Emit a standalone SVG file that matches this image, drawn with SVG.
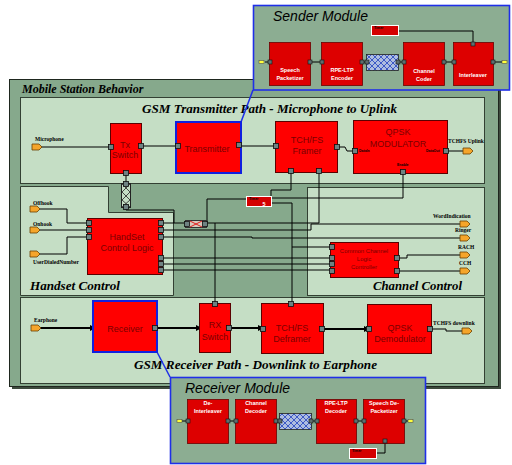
<svg xmlns="http://www.w3.org/2000/svg" xmlns:xlink="http://www.w3.org/1999/xlink" width="512" height="465" viewBox="0 0 512 465">
  <defs>
    <style>
      .frame { fill: #86a98c; stroke: #1e261e; stroke-width: 1; }
      .panel { fill: #c5dec5; stroke: #334033; stroke-width: 1; }
      .module { fill: #8cad92; stroke: #1f2fe8; stroke-width: 1.6; }
      .blk { fill: #ff0000; stroke: #5a0000; stroke-width: 1; }
      .blk-sel { fill: #ff0000; stroke: #1020e0; stroke-width: 2; }
      .sub { fill: #dd0000; stroke: #6a0000; stroke-width: 0.8; }
      .timer { fill: #d40000; stroke: #ffffff; stroke-width: 1; }
      .pt { fill: #6e8282; stroke: #101010; stroke-width: 0.8; }
      .op { fill: #f5a52a; stroke: #6a4000; stroke-width: 0.8; }
      .yp { fill: #ffff3c; stroke: #505050; stroke-width: 0.6; }
      .t-frame { font-family: "Liberation Serif", "Times New Roman", serif; font-style: italic; font-weight: bold; font-size: 12px; fill: #000; }
      .t-panel { font-family: "Liberation Serif", "Times New Roman", serif; font-style: italic; font-weight: bold; font-size: 13px; fill: #000; }
      .t-mod { font-family: "Liberation Sans", Arial, sans-serif; font-style: italic; font-size: 14px; fill: #000; }
      .t-blk { font-family: "Liberation Sans", Arial, sans-serif; font-size: 9px; fill: #7a0000; text-anchor: middle; }
      .t-ccl { font-family: "Liberation Sans", Arial, sans-serif; font-size: 6px; fill: #7a0000; text-anchor: middle; }
      .t-sub { font-family: "Liberation Sans", Arial, sans-serif; font-weight: bold; font-size: 5.5px; fill: #ffffff; text-anchor: middle; }
      .t-io { font-family: "Liberation Serif", "Times New Roman", serif; font-weight: bold; font-size: 5.5px; fill: #000; }
      .t-tiny { font-family: "Liberation Sans", Arial, sans-serif; font-weight: bold; font-size: 3.5px; fill: #000; }
      .wire { fill: none; stroke: #000; stroke-width: 1; }
      .bus { fill: none; stroke: #000; stroke-width: 2; marker-end: url(#arr); }
      .link { fill: none; stroke: #1f2fe8; stroke-width: 1.5; }
    </style>
    <pattern id="hatch" width="6" height="6" patternUnits="userSpaceOnUse">
      <rect width="6" height="6" fill="#aebde0"/>
      <path d="M0,0 L6,6 M6,0 L0,6" stroke="#1f3fc0" stroke-width="0.8"/>
    </pattern>
    <marker id="arr" viewBox="0 0 6 6" refX="5" refY="3" markerWidth="3" markerHeight="3" orient="auto">
      <path d="M0,0 L6,3 L0,6 Z" fill="#000"/>
    </marker>
    <rect id="port" x="-2.5" y="-2.5" width="5" height="5" class="pt"/>
    <path id="oport" d="M0,-3 H7 L10,0 L7,3 H0 Z" class="op"/>
    <rect id="yport" x="0" y="-1.5" width="5" height="3" class="yp"/>
  </defs>

  <!-- outer frame with drop shadow -->
  <rect x="12" y="82" width="489" height="307" fill="#3d4a3d"/>
  <rect x="9.5" y="79.5" width="489" height="307" class="frame"/>
  <text x="22" y="93" class="t-frame">Mobile Station Behavior</text>

  <!-- sub-panels -->
  <rect x="20.5" y="97.5" width="464" height="86" class="panel"/>
  <path d="M20.5,186.5 H108.5 V212.5 H173.5 V295.5 H20.5 Z" class="panel"/>
  <rect x="307.5" y="187.5" width="177" height="108" class="panel"/>
  <rect x="20.5" y="297.5" width="464" height="86" class="panel"/>

  <text x="142" y="113" class="t-panel" textLength="255" lengthAdjust="spacingAndGlyphs">GSM Transmitter Path - Microphone to Uplink</text>
  <text x="30" y="290" class="t-panel" textLength="90" lengthAdjust="spacingAndGlyphs">Handset Control</text>
  <text x="373" y="290" class="t-panel" textLength="89" lengthAdjust="spacingAndGlyphs">Channel Control</text>
  <text x="134" y="369" class="t-panel" textLength="243" lengthAdjust="spacingAndGlyphs">GSM Receiver Path - Downlink to Earphone</text>

  <!-- wiring -->
  <g id="connectors">
    <path class="wire" d="M41,147 H110"/>
    <path class="wire" d="M141,146 H176"/>
    <path class="wire" d="M241,146 H275"/>
    <path class="wire" d="M338,147 H345 L347,151 H353"/>
    <path class="wire" d="M448,151 H463"/>
    <path class="wire" d="M403,173 V198 H272"/>
    <path class="wire" d="M291,172 V190 H271 V196"/>
    <path class="wire" d="M272,203 H292 V303"/>
    <path class="wire" d="M292,247 H330"/>
    <path class="wire" d="M126,173 V183"/>
    <path class="wire" d="M126,207 V210 H174 V223"/>
    <path class="wire" d="M162,223 H185"/>
    <path class="wire" d="M207,223 V199 H246"/>
    <path class="wire" d="M207,223 H319 V172"/>
    <path class="wire" d="M215,223 V303"/>
    <path class="wire" d="M162,230 H311 V224 H460"/>
    <path class="wire" d="M162,237 H252 V238 H460"/>
    <path class="wire" d="M162,258 H330"/>
    <path class="wire" d="M162,264 H330"/>
    <path class="wire" d="M162,270 H330"/>
    <path class="wire" d="M398,258 H407 V255 H460"/>
    <path class="wire" d="M398,271 H460"/>
    <path class="wire" d="M38,209 H67 V223 H87"/>
    <path class="wire" d="M38,230 H87"/>
    <path class="wire" d="M38,254 H67 V237 H87"/>
    <path class="wire" d="M431,329 H446 V331 H462"/>
    <path class="bus" d="M39,328 H95"/>
    <path class="bus" d="M157,328 H201"/>
    <path class="bus" d="M230,328 H263"/>
    <path class="bus" d="M323,329 H369"/>
    <path class="link" d="M253,90 L241,122"/>
    <path class="link" d="M157,352 L170,377"/>
  </g>

  <!-- external ports -->
  <g id="microphone">
    <use xlink:href="#oport" x="32" y="147"/>
    <text x="35" y="141" class="t-io">Microphone</text>
  </g>
  <g id="offhook">
    <use xlink:href="#oport" x="30" y="209"/>
    <text x="33" y="205" class="t-io">Offhook</text>
  </g>
  <g id="onhook">
    <use xlink:href="#oport" x="30" y="230"/>
    <text x="33" y="226" class="t-io">Onhook</text>
  </g>
  <g id="user-dialed-number">
    <use xlink:href="#oport" x="30" y="254"/>
    <text x="33" y="264" class="t-io">UserDialedNumber</text>
  </g>
  <g id="tchfs-uplink">
    <use xlink:href="#oport" x="463" y="151"/>
    <text x="448" y="143" class="t-io">TCHFS Uplink</text>
  </g>
  <g id="word-indication">
    <use xlink:href="#oport" x="460" y="224"/>
    <text x="433" y="218" class="t-io">WordIndication</text>
  </g>
  <g id="ringer">
    <use xlink:href="#oport" x="460" y="238"/>
    <text x="455" y="232" class="t-io">Ringer</text>
  </g>
  <g id="rach">
    <use xlink:href="#oport" x="460" y="255"/>
    <text x="458" y="249" class="t-io">RACH</text>
  </g>
  <g id="cch">
    <use xlink:href="#oport" x="460" y="271"/>
    <text x="459" y="265" class="t-io">CCH</text>
  </g>
  <g id="earphone">
    <use xlink:href="#oport" x="31" y="328"/>
    <text x="34" y="322" class="t-io">Earphone</text>
  </g>
  <g id="tchfs-downlink">
    <use xlink:href="#oport" x="462" y="331"/>
    <text x="433" y="325" class="t-io">TCHFS downlink</text>
  </g>

  <!-- transmitter path -->
  <g id="tx-switch">
    <rect x="110.5" y="123.5" width="31" height="50" class="blk"/>
    <text x="125" y="148" class="t-blk">Tx</text>
    <text x="125" y="158" class="t-blk">Switch</text>
    <use xlink:href="#port" x="111" y="147"/>
    <use xlink:href="#port" x="141" y="146"/>
    <use xlink:href="#port" x="126" y="173"/>
  </g>
  <g id="transmitter">
    <rect x="176" y="122" width="65" height="51" class="blk-sel"/>
    <text x="207" y="152" class="t-blk">Transmitter</text>
    <use xlink:href="#port" x="178" y="146"/>
    <use xlink:href="#port" x="239" y="145"/>
  </g>
  <g id="tchfs-framer">
    <rect x="275.5" y="121.5" width="62" height="51" class="blk"/>
    <text x="307" y="143" class="t-blk">TCH/FS</text>
    <text x="307" y="154" class="t-blk">Framer</text>
    <use xlink:href="#port" x="276" y="146"/>
    <use xlink:href="#port" x="337" y="147"/>
    <use xlink:href="#port" x="291" y="171"/>
    <use xlink:href="#port" x="319" y="171"/>
  </g>
  <g id="qpsk-modulator">
    <rect x="353.5" y="120.5" width="94" height="53" class="blk"/>
    <text x="398" y="135" class="t-blk">QPSK</text>
    <text x="398" y="147" class="t-blk">MODULATOR</text>
    <use xlink:href="#port" x="355" y="151"/>
    <use xlink:href="#port" x="446" y="151"/>
    <use xlink:href="#port" x="403" y="172"/>
    <text x="359" y="152" class="t-tiny">DataIn</text>
    <text x="426" y="152" class="t-tiny">DataOut</text>
    <text x="397" y="166" class="t-tiny">Enable</text>
  </g>

  <!-- handset / control glue -->
  <g id="tx-delay">
    <rect x="121.5" y="183.5" width="9" height="24" fill="#c5dec5" stroke="#222"/>
    <path d="M122,184 L130,192 M130,184 L122,192 M122,192 L130,200 M130,192 L122,200 M122,200 L130,207 M130,200 L122,207" stroke="#222" stroke-width="0.8"/>
    <use xlink:href="#port" x="126" y="184"/>
    <use xlink:href="#port" x="126" y="207"/>
  </g>
  <g id="ctrl-delay">
    <rect x="185.5" y="220.5" width="21" height="7" fill="#d9c9bd" stroke="#333"/>
    <path d="M190,221 L202,227 M202,221 L190,227" stroke="#e02020" stroke-width="1"/>
    <use xlink:href="#port" x="187" y="224"/>
    <use xlink:href="#port" x="205" y="224"/>
  </g>
  <g id="timer">
    <rect x="246.5" y="196.5" width="25" height="10" class="timer"/>
    <text x="249" y="200" class="t-tiny" fill="#fff">Timer</text>
    <text x="264" y="206" class="t-sub" fill="#ffd0a0">5</text>
  </g>
  <g id="handset-control-logic">
    <rect x="87.5" y="218.5" width="75" height="56" class="blk"/>
    <text x="127" y="240" class="t-blk">HandSet</text>
    <text x="127" y="251" class="t-blk">Control Logic</text>
    <use xlink:href="#port" x="89" y="223"/>
    <use xlink:href="#port" x="89" y="230"/>
    <use xlink:href="#port" x="89" y="237"/>
    <use xlink:href="#port" x="161" y="223"/>
    <use xlink:href="#port" x="161" y="230"/>
    <use xlink:href="#port" x="161" y="237"/>
    <use xlink:href="#port" x="161" y="258"/>
    <use xlink:href="#port" x="161" y="264"/>
    <use xlink:href="#port" x="161" y="270"/>
  </g>
  <g id="common-channel-logic-controller">
    <rect x="330.5" y="242.5" width="68" height="35" class="blk"/>
    <text x="364" y="253" class="t-ccl">Common Channel</text>
    <text x="364" y="261" class="t-ccl">Logic</text>
    <text x="364" y="269" class="t-ccl">Controller</text>
    <use xlink:href="#port" x="332" y="247"/>
    <use xlink:href="#port" x="332" y="258"/>
    <use xlink:href="#port" x="332" y="264"/>
    <use xlink:href="#port" x="332" y="271"/>
    <use xlink:href="#port" x="397" y="258"/>
    <use xlink:href="#port" x="397" y="271"/>
  </g>

  <!-- receiver path -->
  <g id="receiver">
    <rect x="93" y="301" width="64" height="51" class="blk-sel"/>
    <text x="125" y="332" class="t-blk">Receiver</text>
    <use xlink:href="#port" x="155" y="328"/>
  </g>
  <g id="rx-switch">
    <rect x="199.5" y="303.5" width="31" height="49" class="blk"/>
    <text x="215" y="328" class="t-blk">RX</text>
    <text x="215" y="340" class="t-blk">Switch</text>
    <use xlink:href="#port" x="215" y="304"/>
    <use xlink:href="#port" x="229" y="328"/>
  </g>
  <g id="tchfs-deframer">
    <rect x="261.5" y="303.5" width="62" height="50" class="blk"/>
    <text x="292" y="331" class="t-blk">TCH/FS</text>
    <text x="292" y="342" class="t-blk">Deframer</text>
    <use xlink:href="#port" x="291" y="304"/>
    <use xlink:href="#port" x="263" y="329"/>
    <use xlink:href="#port" x="322" y="329"/>
  </g>
  <g id="qpsk-demodulator">
    <rect x="367.5" y="304.5" width="64" height="49" class="blk"/>
    <text x="400" y="331" class="t-blk">QPSK</text>
    <text x="400" y="342" class="t-blk">Demodulator</text>
    <use xlink:href="#port" x="369" y="329"/>
    <use xlink:href="#port" x="430" y="329"/>
  </g>

  <!-- sender module detail -->
  <g id="sender-module">
    <rect x="253.5" y="5.5" width="256" height="84.5" class="module"/>
    <text x="273" y="21" class="t-mod">Sender Module</text>
    <path class="wire" d="M265,62 H269 M310,62 H321 M362,62 H366 M398,62 H403 M444,62 H453 M493,62 H502 M398,31 H473 V42"/>
    <use xlink:href="#yport" x="259" y="62"/>
    <use xlink:href="#yport" x="502" y="62"/>
    <rect x="269.5" y="42.5" width="41" height="43" class="sub"/>
    <text x="290" y="72" class="t-sub">Speech</text>
    <text x="290" y="80" class="t-sub">Packetizer</text>
    <rect x="321.5" y="42.5" width="41" height="43" class="sub"/>
    <text x="342" y="72" class="t-sub">RPE-LTP</text>
    <text x="342" y="80" class="t-sub">Encoder</text>
    <rect x="366.5" y="54.5" width="32" height="16" fill="url(#hatch)" stroke="#222" stroke-width="0.8"/>
    <rect x="403.5" y="42.5" width="41" height="43" class="sub"/>
    <text x="424" y="73" class="t-sub">Channel</text>
    <text x="424" y="81" class="t-sub">Coder</text>
    <rect x="453.5" y="42.5" width="40" height="43" class="sub"/>
    <text x="473" y="77" class="t-sub">Interleaver</text>
    <rect x="371.5" y="25.5" width="27" height="10" class="timer"/>
    <text x="374" y="29" class="t-tiny" fill="#fff">Timer</text>
    <g fill="#5d6e6e" stroke="#111" stroke-width="0.6">
      <rect x="268" y="60" width="4" height="4"/><rect x="308" y="60" width="4" height="4"/>
      <rect x="320" y="60" width="4" height="4"/><rect x="360" y="60" width="4" height="4"/>
      <rect x="365" y="60" width="4" height="4"/><rect x="396" y="60" width="4" height="4"/>
      <rect x="402" y="60" width="4" height="4"/><rect x="442" y="60" width="4" height="4"/>
      <rect x="452" y="60" width="4" height="4"/><rect x="491" y="60" width="4" height="4"/>
      <rect x="471" y="42" width="4" height="4"/>
    </g>
  </g>

  <!-- receiver module detail -->
  <g id="receiver-module">
    <rect x="170.5" y="377.5" width="255" height="86" class="module"/>
    <text x="185" y="393" class="t-mod">Receiver Module</text>
    <path class="wire" d="M182,421 H187 M228,421 H235 M276,421 H279 M311,421 H316 M356,421 H363 M404,421 H408 M385,441 V453 H376"/>
    <use xlink:href="#yport" x="177" y="421"/>
    <use xlink:href="#yport" x="408" y="421"/>
    <rect x="187.5" y="399.5" width="41" height="44" class="sub"/>
    <text x="208" y="405" class="t-sub">De-</text>
    <text x="208" y="413" class="t-sub">Interleaver</text>
    <rect x="235.5" y="399.5" width="41" height="44" class="sub"/>
    <text x="256" y="405" class="t-sub">Channel</text>
    <text x="256" y="413" class="t-sub">Decoder</text>
    <rect x="279.5" y="413.5" width="32" height="16" fill="url(#hatch)" stroke="#222" stroke-width="0.8"/>
    <rect x="316.5" y="399.5" width="40" height="44" class="sub"/>
    <text x="336" y="405" class="t-sub">RPE-LTP</text>
    <text x="336" y="413" class="t-sub">Decoder</text>
    <rect x="363.5" y="399.5" width="41" height="44" class="sub"/>
    <text x="384" y="405" class="t-sub">Speech De-</text>
    <text x="384" y="413" class="t-sub">Packetizer</text>
    <rect x="349.5" y="448.5" width="27" height="10" class="timer"/>
    <text x="352" y="452" class="t-tiny" fill="#fff">Timer</text>
    <g fill="#5d6e6e" stroke="#111" stroke-width="0.6">
      <rect x="186" y="419" width="4" height="4"/><rect x="226" y="419" width="4" height="4"/>
      <rect x="234" y="419" width="4" height="4"/><rect x="274" y="419" width="4" height="4"/>
      <rect x="278" y="419" width="4" height="4"/><rect x="309" y="419" width="4" height="4"/>
      <rect x="315" y="419" width="4" height="4"/><rect x="354" y="419" width="4" height="4"/>
      <rect x="362" y="419" width="4" height="4"/><rect x="402" y="419" width="4" height="4"/>
      <rect x="383" y="439" width="4" height="4"/>
    </g>
  </g>
</svg>
